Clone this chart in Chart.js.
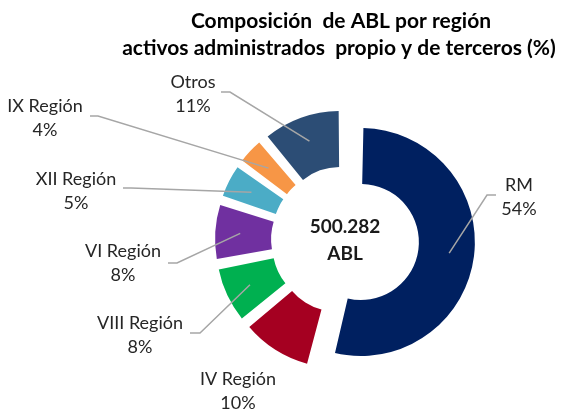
<!DOCTYPE html>
<html>
<head>
<meta charset="utf-8">
<script src="https://cdn.jsdelivr.net/npm/chart.js@4.4.1/dist/chart.umd.min.js"></script>
<style>
  html, body { margin: 0; padding: 0; background: #fff; }
  #wrap { width: 574px; height: 410px; }
</style>
</head>
<body>
<div id="wrap"><canvas id="myChart" width="574" height="410"></canvas></div>
<script>
// data
const categories = ['RM', 'IV Región', 'VIII Región', 'VI Región', 'XII Región', 'IX Región', 'Otros'];
const shares = [54, 10, 8, 8, 5, 4, 11];
const sliceColors = ['#002060', '#A50021', '#00B050', '#7030A0', '#4BACC6', '#F79646', '#2C4D75'];
const titleLines = ['Composición  de ABL por región', 'activos administrados  propio y de terceros (%)'];
const centerLines = ['500.282', 'ABL'];

// label placement (center x, first baseline) and leader line elbow for each slice
const labelPos = [[519, 191], [238, 385], [140, 329], [123, 257], [76, 185], [45, 112], [193, 88]];
const leaderStart = [[496, 195], null, [190, 333], [168, 263], [123, 188], [90, 116], [221, 92]];
const leaderElbow = [[487, 195], null, [200, 333], [177, 263], [131, 188], [98, 116], [230, 92]];

const FONT = 'Lato, "Open Sans", sans-serif';
const OUTER = 114;
const INNER = 58;
const EXPLODE = 16;

// undo the radial push chart.js adds on top of the offset, so the slices only move
const explodeFix = {
    id: 'explodeFix',
    beforeDatasetsDraw(chart) {
        chart.getDatasetMeta(0).data.forEach(arc => {
            const c = arc.endAngle - arc.startAngle;
            const fix = 1 - Math.sin(Math.min(Math.PI, c));
            arc.outerRadius = OUTER - EXPLODE * fix;
            arc.innerRadius = INNER - EXPLODE * fix;
        });
    }
};

const labelsPlugin = {
    id: 'labelsPlugin',
    afterDraw(chart) {
        const ctx = chart.ctx;
        const meta = chart.getDatasetMeta(0);
        ctx.save();

        // title
        ctx.fillStyle = '#000';
        ctx.textAlign = 'center';
        ctx.textBaseline = 'alphabetic';
        ctx.font = 'bold 21px ' + FONT;
        ctx.fillText(titleLines[0], 341, 28);
        ctx.fillText(titleLines[1], 339, 55);

        // center text
        ctx.fillStyle = '#1a1a1a';
        ctx.font = 'bold 19px ' + FONT;
        ctx.fillText(centerLines[0], 345, 233);
        ctx.fillText(centerLines[1], 345, 260);

        // leader lines
        ctx.strokeStyle = '#A6A6A6';
        ctx.lineWidth = 1.5;
        meta.data.forEach((arc, i) => {
            if (!leaderStart[i]) return;
            const mid = (arc.startAngle + arc.endAngle) / 2;
            const r = EXPLODE + (INNER + OUTER) / 2 + 3;
            const ax = arc.x + Math.cos(mid) * r;
            const ay = arc.y + Math.sin(mid) * r;
            ctx.beginPath();
            ctx.moveTo(leaderStart[i][0], leaderStart[i][1]);
            ctx.lineTo(leaderElbow[i][0], leaderElbow[i][1]);
            ctx.lineTo(ax, ay);
            ctx.stroke();
        });

        // slice labels
        ctx.fillStyle = '#262626';
        ctx.font = '18px ' + FONT;
        categories.forEach((name, i) => {
            const [x, y] = labelPos[i];
            ctx.fillText(name, x, y);
            ctx.fillText(shares[i] + '%', x, y + 23.5);
        });
        ctx.restore();
    }
};

function displayGraph() {
    const ctx = document.getElementById('myChart').getContext('2d');
    new Chart(ctx, {
        type: 'doughnut',
        data: {
            labels: categories,
            datasets: [{
                data: shares,
                backgroundColor: sliceColors,
                borderWidth: 0,
                offset: EXPLODE * 4,
                hoverOffset: 0
            }]
        },
        options: {
            responsive: false,
            devicePixelRatio: 1,
            animation: false,
            radius: OUTER,
            cutout: '51%',
            layout: { padding: { left: 223, right: 107, top: 118, bottom: 48 } },
            plugins: {
                legend: { display: false },
                tooltip: { enabled: false },
                title: { display: false }
            },
            events: []
        },
        plugins: [explodeFix, labelsPlugin]
    });
}

displayGraph();
</script>
</body>
</html>
